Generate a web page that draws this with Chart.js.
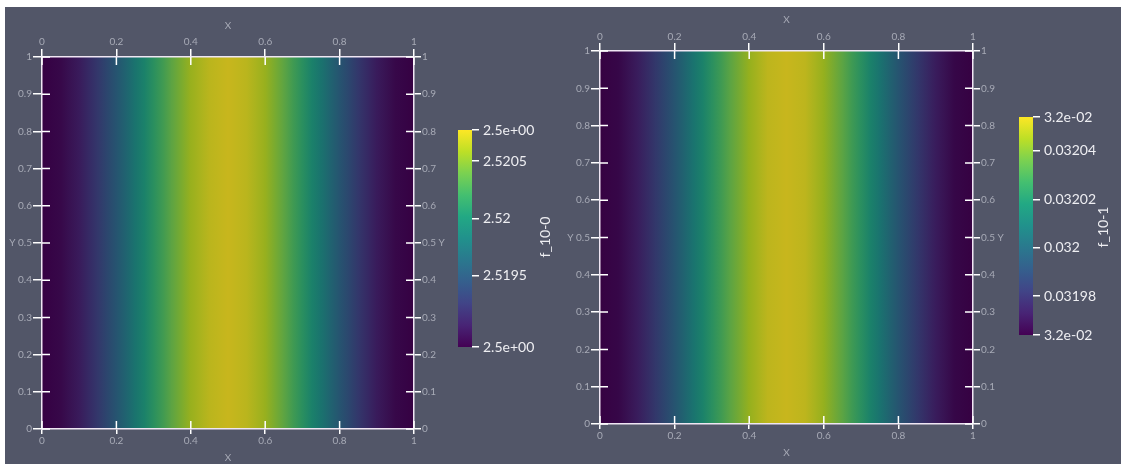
<!DOCTYPE html>
<html>
<head>
<meta charset="utf-8">
<script src="https://cdn.jsdelivr.net/npm/chart.js@4.4.1/dist/chart.umd.min.js"></script>
<style>
  html, body { margin: 0; padding: 0; background: #ffffff; }
  #bg { position: absolute; left: 5px; top: 7px; width: 1116px; height: 457px; background: #525668; }
  .box { position: absolute; }
</style>
</head>
<body>
<div id="bg"></div>
<div class="box" style="left:0;top:0"><canvas id="map0" width="560" height="464"></canvas></div>
<div class="box" style="left:440px;top:100px"><canvas id="bar0" width="120" height="270"></canvas></div>
<div class="box" style="left:560px;top:0"><canvas id="map1" width="561" height="464"></canvas></div>
<div class="box" style="left:1000px;top:90px"><canvas id="bar1" width="121" height="270"></canvas></div>
<script>
// the field only changes along X, so it is sampled at these x positions
const xNodes = [0, 0.05, 0.1, 0.15, 0.2, 0.25, 0.3, 0.35, 0.4, 0.45, 0.5,
                0.55, 0.6, 0.65, 0.7, 0.75, 0.8, 0.85, 0.9, 0.95, 1];

// f_10-0 values (left plot)
const f10_0 = [2.51888, 2.51893, 2.51906, 2.51927, 2.51953, 2.51983, 2.52012, 2.52038, 2.52059, 2.52072, 2.52077,
               2.52072, 2.52059, 2.52038, 2.52012, 2.51983, 2.51953, 2.51927, 2.51906, 2.51893, 2.51888];
// f_10-1 values (right plot)
const f10_1 = [0.031964, 0.031966, 0.031973, 0.031983, 0.031995, 0.032009, 0.032023, 0.032035, 0.032045, 0.032052, 0.032054,
               0.032052, 0.032045, 0.032035, 0.032023, 0.032009, 0.031995, 0.031983, 0.031973, 0.031966, 0.031964];

// colour bar ranges, ticks and labels
const range0 = [2.51888, 2.52077];
const barTicks0 = [2.51888, 2.5195, 2.52, 2.5205, 2.52077];
const barLabels0 = ['2.5e+00', '2.5195', '2.52', '2.5205', '2.5e+00'];
const range1 = [0.031964, 0.032054];
const barTicks1 = [0.031964, 0.03198, 0.032, 0.03202, 0.03204, 0.032054];
const barLabels1 = ['3.2e-02', '0.03198', '0.032', '0.03202', '0.03204', '3.2e-02'];

// plot axis ticks
const xTicks = [0, 0.2, 0.4, 0.6, 0.8, 1];
const xTickLabels = ['0', '0.2', '0.4', '0.6', '0.8', '1'];
const yTicks = [0, 0.1, 0.2, 0.3, 0.4, 0.5, 0.6, 0.7, 0.8, 0.9, 1];
const yTickLabels = ['0', '0.1', '0.2', '0.3', '0.4', '0.5', '0.6', '0.7', '0.8', '0.9', '1'];

const FONT = 'Lato, "Noto Sans", sans-serif';
const VIRIDIS = ['#440154', '#482475', '#414487', '#355f8d', '#2a788e', '#21918c',
                 '#22a884', '#44bf70', '#7ad151', '#bddf26', '#fde725'];

function rgb(hex) {
  return [1, 3, 5].map(i => parseInt(hex.slice(i, i + 2), 16));
}

function viridis(t, shade) {
  t = Math.min(1, Math.max(0, t));
  const p = t * 10, i = Math.min(9, Math.floor(p)), f = p - i;
  const a = rgb(VIRIDIS[i]), b = rgb(VIRIDIS[i + 1]);
  const c = a.map((v, k) => Math.round((v + (b[k] - v) * f) * shade));
  return 'rgb(' + c.join(',') + ')';
}

// ticks that poke into the plot from each axis
const innerTicks = {
  id: 'innerTicks',
  afterDraw(chart, args, opts) {
    const { ctx, chartArea: a } = chart;
    const len = opts.len;
    ctx.save();
    ctx.strokeStyle = opts.color;
    ctx.lineWidth = opts.width;
    ctx.beginPath();
    Object.values(chart.scales).forEach(s => {
      s.ticks.forEach((t, i) => {
        const p = s.getPixelForTick(i);
        if (s.position === 'top') { ctx.moveTo(p, a.top); ctx.lineTo(p, a.top + len); }
        if (s.position === 'bottom') { ctx.moveTo(p, a.bottom); ctx.lineTo(p, a.bottom - len); }
        if (s.position === 'left') { ctx.moveTo(a.left, p); ctx.lineTo(a.left + len, p); }
        if (s.position === 'right') { ctx.moveTo(a.right, p); ctx.lineTo(a.right - len, p); }
      });
    });
    ctx.stroke();
    ctx.restore();
  }
};

// rotated title next to the colour bar, reading upwards
const barTitle = {
  id: 'barTitle',
  afterDraw(chart, args, o) {
    const ctx = chart.ctx;
    ctx.save();
    ctx.translate(o.x, o.y);
    ctx.rotate(-Math.PI / 2);
    ctx.font = o.size + 'px ' + FONT;
    ctx.fillStyle = o.color;
    ctx.textAlign = 'center';
    ctx.textBaseline = 'middle';
    ctx.fillText(o.text, 0, 0);
    ctx.restore();
  }
};

function axis(position, ticks, labels, size, tickLen, tickPad, title) {
  const horizontal = position === 'top' || position === 'bottom';
  return {
    type: 'linear',
    position: position,
    min: 0,
    max: 1,
    offset: false,
    afterBuildTicks: s => { s.ticks = ticks.map(v => ({ value: v })); },
    afterFit: s => { if (horizontal) s.height = size; else s.width = size; },
    grid: { drawOnChartArea: false, drawTicks: true, tickLength: tickLen, color: '#ffffff', lineWidth: 1.5, offset: false, z: 1 },
    border: { display: true, color: '#efe6f3', width: 1.5, z: 1 },
    ticks: {
      autoSkip: false, maxRotation: 0, padding: tickPad,
      color: '#a7aab6', font: { family: FONT, size: 10 },
      callback: (v, i) => labels[i]
    },
    title: title
      ? { display: true, text: 'X', color: '#a7aab6', font: { family: FONT, size: 10 }, padding: title }
      : { display: false }
  };
}

function heatmap(id, values, range, g) {
  const cells = [];
  for (let i = 0; i < xNodes.length - 1; i++) {
    cells.push({ x: (xNodes[i] + xNodes[i + 1]) / 2, y: [0, 1] });
  }
  const norm = v => (v - range[0]) / (range[1] - range[0]);
  const shade = 0.79;
  const cellColor = c => {
    const chart = c.chart, i = c.dataIndex;
    if (!chart.chartArea || i === undefined) return viridis(0.5, shade);
    const sx = chart.scales.x;
    const grad = chart.ctx.createLinearGradient(sx.getPixelForValue(xNodes[i]), 0, sx.getPixelForValue(xNodes[i + 1]), 0);
    const v0 = values[i], v1 = values[i + 1];
    grad.addColorStop(0, viridis(norm(v0), shade));
    grad.addColorStop(0.5, viridis(norm((v0 + v1) / 2), shade));
    grad.addColorStop(1, viridis(norm(v1), shade));
    return grad;
  };
  const yLeft = yTickLabels.map(l => l === '0.5' ? 'Y ' + l : l);
  const yRight = yTickLabels.map(l => l === '0.5' ? l + ' Y' : l);

  new Chart(document.getElementById(id), {
    type: 'bar',
    data: {
      datasets: [{
        data: cells,
        xAxisID: 'x',
        yAxisID: 'y',
        backgroundColor: cellColor,
        borderWidth: 0,
        barPercentage: 1,
        categoryPercentage: 1,
        inflateAmount: 0.6
      }]
    },
    plugins: [innerTicks],
    options: {
      responsive: false,
      animation: false,
      events: [],
      layout: { padding: 0 },
      plugins: {
        legend: { display: false },
        tooltip: { enabled: false },
        innerTicks: { len: 8, color: '#ffffff', width: 1.5 }
      },
      scales: {
        x: axis('bottom', xTicks, xTickLabels, g.bottom, 5, 1, { bottom: g.titleBottom }),
        x2: axis('top', xTicks, xTickLabels, g.top, 8, g.topPad, { top: g.titleTop }),
        y: axis('left', yTicks, yLeft, g.left, 9, 1, null),
        y2: axis('right', yTicks, yRight, g.right, 7, 1, null)
      }
    }
  });
}

function colorbar(id, range, ticks, labels, g, title) {
  const barColor = c => {
    const a = c.chart.chartArea;
    if (!a) return VIRIDIS[0];
    const grad = c.chart.ctx.createLinearGradient(0, a.bottom, 0, a.top);
    VIRIDIS.forEach((col, i) => grad.addColorStop(i / 10, col));
    return grad;
  };
  new Chart(document.getElementById(id), {
    type: 'bar',
    data: {
      labels: [''],
      datasets: [{ data: [range], backgroundColor: barColor, borderWidth: 0, barPercentage: 1, categoryPercentage: 1 }]
    },
    plugins: [barTitle],
    options: {
      responsive: false,
      animation: false,
      events: [],
      layout: { padding: { left: g.left, top: g.top, bottom: g.bottom, right: 0 } },
      plugins: {
        legend: { display: false },
        tooltip: { enabled: false },
        barTitle: { text: title, x: g.titleX, y: g.titleY, size: 14, color: '#eeeef2' }
      },
      scales: {
        x: { display: false },
        y: {
          position: 'right',
          min: range[0],
          max: range[1],
          afterBuildTicks: s => { s.ticks = ticks.map(v => ({ value: v })); },
          afterFit: s => { s.width = g.axis; },
          grid: { drawOnChartArea: false, drawTicks: true, tickLength: 7, color: '#ffffff', lineWidth: 1.5 },
          border: { display: false },
          ticks: {
            autoSkip: false, padding: 4, color: '#eeeef2',
            font: { family: FONT, size: 14 },
            callback: (v, i) => labels[i]
          }
        }
      }
    }
  });
}

heatmap('map0', f10_0, range0, { left: 42, right: 146, top: 57, bottom: 35, topPad: 1, titleTop: 20, titleBottom: 0 });
heatmap('map1', f10_1, range1, { left: 40, right: 148, top: 51, bottom: 40, topPad: 0, titleTop: 14, titleBottom: 5 });
colorbar('bar0', range0, barTicks0, barLabels0, { left: 18, top: 30, bottom: 23, axis: 88, titleX: 105, titleY: 137 }, 'f_10-0');
colorbar('bar1', range1, barTicks1, barLabels1, { left: 19, top: 27, bottom: 25, axis: 88, titleX: 103, titleY: 137 }, 'f_10-1');
</script>
</body>
</html>
